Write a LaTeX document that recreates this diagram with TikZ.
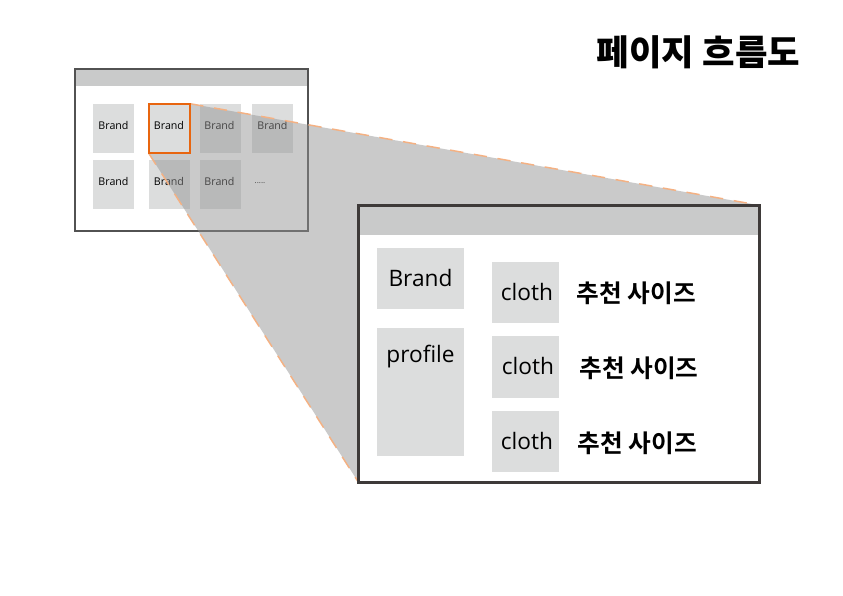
\documentclass[tikz,border=0pt]{standalone}
\usepackage{fontspec}
\setmainfont{Open Sans}
\newfontfamily\krfont{Noto Sans CJK KR Bold}
\newfontfamily\krheavy{Noto Sans CJK KR Black}
\definecolor{boxgray}{HTML}{DCDDDD}
\definecolor{bargray}{HTML}{C9CACA}
\definecolor{wedgegray}{HTML}{929292}
\definecolor{framedark}{HTML}{3E3A39}
\definecolor{hl}{HTML}{E8650F}
\definecolor{edgeor}{HTML}{F4B183}
\tikzset{
  x=0.75pt,y=-0.75pt,
  cell/.style={fill=boxgray,draw=none,inner sep=0,minimum width=30.75pt,minimum height=36.75pt},
  smalltxt/.style={inner sep=0,font=\fontsize{8pt}{8pt}\selectfont,text=black},
  bigtxt/.style={inner sep=0,font=\fontsize{17pt}{17pt}\selectfont,text=black},
  kr/.style={inner sep=0,font=\krfont\fontsize{18.5pt}{18.5pt}\selectfont,text=black},
  clothbox/.style={fill=boxgray,draw=none,inner sep=0,minimum width=50.25pt,minimum height=46pt},
  orangeedge/.style={edgeor,line width=1.1pt,dash pattern=on 10pt off 8pt},
}
\begin{document}
\begin{tikzpicture}
\useasboundingbox (0,0) rectangle (843,596);
\fill[white] (0,0) rectangle (843,596);
% small window
\node[fill=white,inner sep=0,minimum width=174.75pt,minimum height=120.75pt] (win) at (191.5,150) {};
\fill[bargray] (win.north west) rectangle (308,86);
\node[cell] (c1) at (113.5,128.5) {};
\node[cell] (c2) at (169.5,128.5) {};
\node[cell] (c3) at (220.5,128.5) {};
\node[cell] (c4) at (272.5,128.5) {};
\node[cell] (c5) at (113.5,184.5) {};
\node[cell] (c6) at (169.5,184.5) {};
\node[cell] (c7) at (220.5,184.5) {};
\node[smalltxt] (t1) at (113.5,125) {Brand};
\node[smalltxt] (t2) at (169,125) {Brand};
\node[smalltxt] (t3) at (219.5,125) {Brand};
\node[smalltxt] (t4) at (272.5,125) {Brand};
\node[smalltxt] (t5) at (113.5,181) {Brand};
\node[smalltxt] (t6) at (169,181) {Brand};
\node[smalltxt] (t7) at (219.5,181) {Brand};
\node[smalltxt,font=\fontsize{6pt}{6pt}\selectfont] (t8) at (260,183) {.....};
\draw[draw=black!68,line width=1.5pt] (win.north west) rectangle (win.south east);
% big window geometry
\node[inner sep=0,minimum width=300pt,minimum height=207.75pt] (big) at (559,344) {};
% zoom wedge
\fill[wedgegray,fill opacity=.48] (c2.north east) -- (big.north east) -- (big.south west) -- (c2.south west) -- (c2.south east) -- cycle;
\draw[orangeedge] (c2.north east) -- (big.north east);
\draw[orangeedge] (c2.south west) -- (big.south west);
% highlighted cell
\draw[hl,line width=1.5pt] (c2.north west) rectangle (c2.south east);
% big window
\fill[white] (big.north west) rectangle (big.south east);
\fill[bargray] (big.north west) rectangle (759,235);
\draw[framedark,line width=2.2pt] (big.north west) rectangle (big.south east);
\node[fill=boxgray,inner sep=0,minimum width=65.25pt,minimum height=45.75pt] (brand) at (420.5,278.5) {};
\node[bigtxt] (brandt) at (420.5,278) {Brand};
\node[fill=boxgray,inner sep=0,minimum width=65.25pt,minimum height=96pt] (profile) at (420.5,392) {};
\node[bigtxt] (profilet) at (420.5,357) {profile};
\node[clothbox] (b1) at (525.5,292.5) {};
\node[clothbox] (b2) at (525.5,367) {};
\node[clothbox] (b3) at (525.5,441.5) {};
\node[bigtxt] (l1) at (527,292) {cloth};
\node[bigtxt] (l2) at (528,366) {cloth};
\node[bigtxt] (l3) at (527,441) {cloth};
\node[kr] (k1) at (636.5,293) {추천 사이즈};
\node[kr] (k2) at (639,368) {추천 사이즈};
\node[kr] (k3) at (637.5,443) {추천 사이즈};
\node[inner sep=0,font=\krheavy\fontsize{26.5pt}{26.5pt}\selectfont] (title) at (698.5,52) {페이지 흐름도};
\end{tikzpicture}
\end{document}
